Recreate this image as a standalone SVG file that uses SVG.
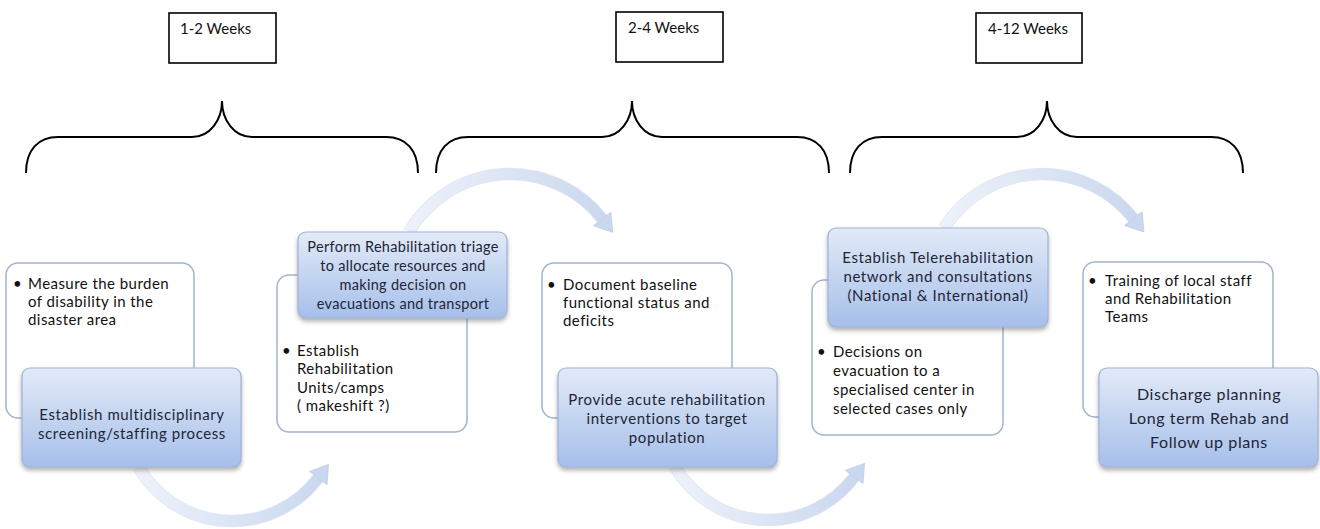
<svg xmlns="http://www.w3.org/2000/svg" width="1320" height="529" viewBox="0 0 1320 529">
<defs>
<linearGradient id="blueFill" x1="0" y1="0" x2="0" y2="1">
<stop offset="0" stop-color="#e2eaf7"/>
<stop offset="1" stop-color="#a6bfea"/>
</linearGradient>
<linearGradient id="arcGrad" x1="0" y1="0" x2="1" y2="0">
<stop offset="0" stop-color="#edf2fa"/>
<stop offset="1" stop-color="#cbd8ef"/>
</linearGradient>
<filter id="shadow" x="-10%" y="-10%" width="120%" height="130%">
<feDropShadow dx="0" dy="3" stdDeviation="2" flood-color="#555" flood-opacity="0.45"/>
</filter>
<style>
.brace{fill:none;stroke:#000;stroke-width:2}
.week{fill:#fff;stroke:#000;stroke-width:1.6}
.weekt{font-family:Lato,"Liberation Sans",sans-serif;font-size:15px;fill:#111}
.wbox{fill:#fff;stroke:#a3b3cc;stroke-width:1.5}
.bbox{fill:url(#blueFill);stroke:#9fb3d8;stroke-width:1.2;filter:url(#shadow)}
.wt{font-family:Lato,"Liberation Sans",sans-serif;font-size:15px;letter-spacing:0.45px;fill:#111}
.bt{font-family:Lato,"Liberation Sans",sans-serif;font-size:15px;letter-spacing:0.6px;fill:#1e2536;text-anchor:middle}
.arc{fill:none;stroke:url(#arcGrad);stroke-width:11}
.arcEdge{fill:none;stroke:#c3d0e8;stroke-width:12.5;opacity:0.5}
.head{fill:#c9d7ef;stroke:#bccbe6;stroke-width:0.8}
</style>
</defs>

<g id="weeks">
<g id="week1"><rect class="week" x="169" y="13" width="107" height="50"/><text class="weekt" x="180" y="34">1-2 Weeks</text></g>
<g id="week2"><rect class="week" x="616" y="12" width="107" height="50"/><text class="weekt" x="628" y="33">2-4 Weeks</text></g>
<g id="week3"><rect class="week" x="976" y="13" width="106" height="50"/><text class="weekt" x="988" y="34">4-12 Weeks</text></g>
</g>

<g id="braces">
<path class="brace" d="M26,173 C26,150 38,137 58,137 L192,137 C210,137 222,120 222,101 C222,120 234,137 252,137 L386,137 C406,137 418,150 418,173"/>
<path class="brace" d="M436,173 C436,150 448,137 468,137 L602,137 C620,137 632,120 632,101 C632,120 644,137 662,137 L797,137 C817,137 829,150 829,173"/>
<path class="brace" d="M850,173 C850,150 862,137 882,137 L1017,137 C1035,137 1047,120 1047,101 C1047,120 1059,137 1077,137 L1211,137 C1231,137 1243,150 1243,173"/>
</g>

<g id="connectors">
<path class="arcEdge" d="M138.5,467 A108,108 0 0,0 318.25,478"/>
<path class="arc" d="M138.5,467 A108,108 0 0,0 318.25,478"/>
<polygon class="head" points="327,484.6 309.5,471.4 328.5,464.4"/>

<path class="arcEdge" d="M409,232 A117,117 0 0,1 602.2,218.9"/>
<path class="arc" d="M409,232 A117,117 0 0,1 602.2,218.9"/>
<polygon class="head" points="610.9,212.1 593.5,225.7 612.7,232.3"/>

<path class="arcEdge" d="M674.5,466 A108,108 0 0,0 854.25,477"/>
<path class="arc" d="M674.5,466 A108,108 0 0,0 854.25,477"/>
<polygon class="head" points="863,483.6 845.5,470.4 864.5,463.4"/>

<path class="arcEdge" d="M944,228 A116,116 0 0,1 1133.4,218.6"/>
<path class="arc" d="M944,228 A116,116 0 0,1 1133.4,218.6"/>
<polygon class="head" points="1142.1,211.8 1124.7,225.4 1143.9,232"/>
</g>

<g id="node1">
<rect class="wbox" x="6" y="263" width="188" height="155" rx="12"/>
<text class="wt" x="13" y="289">•</text>
<text class="wt" x="28" y="289">Measure  the burden</text>
<text class="wt" x="28" y="307">of disability in the</text>
<text class="wt" x="28" y="325">disaster area</text>
<rect class="bbox" x="22" y="368" width="219" height="99" rx="8"/>
<text class="bt" x="132" y="420">Establish multidisciplinary</text>
<text class="bt" x="132" y="439">screening/staffing process</text>
</g>

<g id="node2">
<rect class="wbox" x="277" y="275" width="190" height="157" rx="12"/>
<text class="wt" x="282" y="356">•</text>
<text class="wt" x="297" y="356">Establish</text>
<text class="wt" x="297" y="374">Rehabilitation</text>
<text class="wt" x="297" y="393">Units/camps</text>
<text class="wt" x="297" y="411">( makeshift ?)</text>
<rect class="bbox" x="298" y="232" width="209" height="86" rx="8"/>
<text class="bt" x="403" y="252" style="font-size:14.5px;letter-spacing:0.3px">Perform Rehabilitation triage</text>
<text class="bt" x="403" y="271" style="font-size:14.5px;letter-spacing:0.3px">to allocate resources and</text>
<text class="bt" x="403" y="290" style="font-size:14.5px;letter-spacing:0.3px">making decision on</text>
<text class="bt" x="403" y="309" style="font-size:14.5px;letter-spacing:0.3px">evacuations and transport</text>
</g>

<g id="node3">
<rect class="wbox" x="542" y="263" width="190" height="155" rx="12"/>
<text class="wt" x="547" y="290">•</text>
<text class="wt" x="563" y="290">Document baseline</text>
<text class="wt" x="563" y="308">functional status and</text>
<text class="wt" x="563" y="326">deficits</text>
<rect class="bbox" x="558" y="368" width="219" height="99" rx="8"/>
<text class="bt" x="667" y="405">Provide acute rehabilitation</text>
<text class="bt" x="667" y="424">interventions to target</text>
<text class="bt" x="667" y="443">population</text>
</g>

<g id="node4">
<rect class="wbox" x="812" y="280" width="191" height="155" rx="12"/>
<text class="wt" x="817" y="357">•</text>
<text class="wt" x="833" y="357">Decisions on</text>
<text class="wt" x="833" y="376">evacuation to a</text>
<text class="wt" x="833" y="395">specialised center in</text>
<text class="wt" x="833" y="414">selected cases only</text>
<rect class="bbox" x="828" y="228" width="220" height="99" rx="8"/>
<text class="bt" x="938" y="263">Establish Telerehabilitation</text>
<text class="bt" x="938" y="282">network and consultations</text>
<text class="bt" x="938" y="301">(National &amp; International)</text>
</g>

<g id="node5">
<rect class="wbox" x="1083" y="262" width="190" height="155" rx="12"/>
<text class="wt" x="1088" y="286">•</text>
<text class="wt" x="1105" y="286">Training of local staff</text>
<text class="wt" x="1105" y="304">and Rehabilitation</text>
<text class="wt" x="1105" y="322">Teams</text>
<rect class="bbox" x="1099" y="368" width="219" height="99" rx="8"/>
<text class="bt" x="1209" y="400" style="font-size:16px">Discharge planning</text>
<text class="bt" x="1209" y="424" style="font-size:16px">Long term Rehab and</text>
<text class="bt" x="1209" y="448" style="font-size:16px">Follow up plans</text>
</g>
</svg>
